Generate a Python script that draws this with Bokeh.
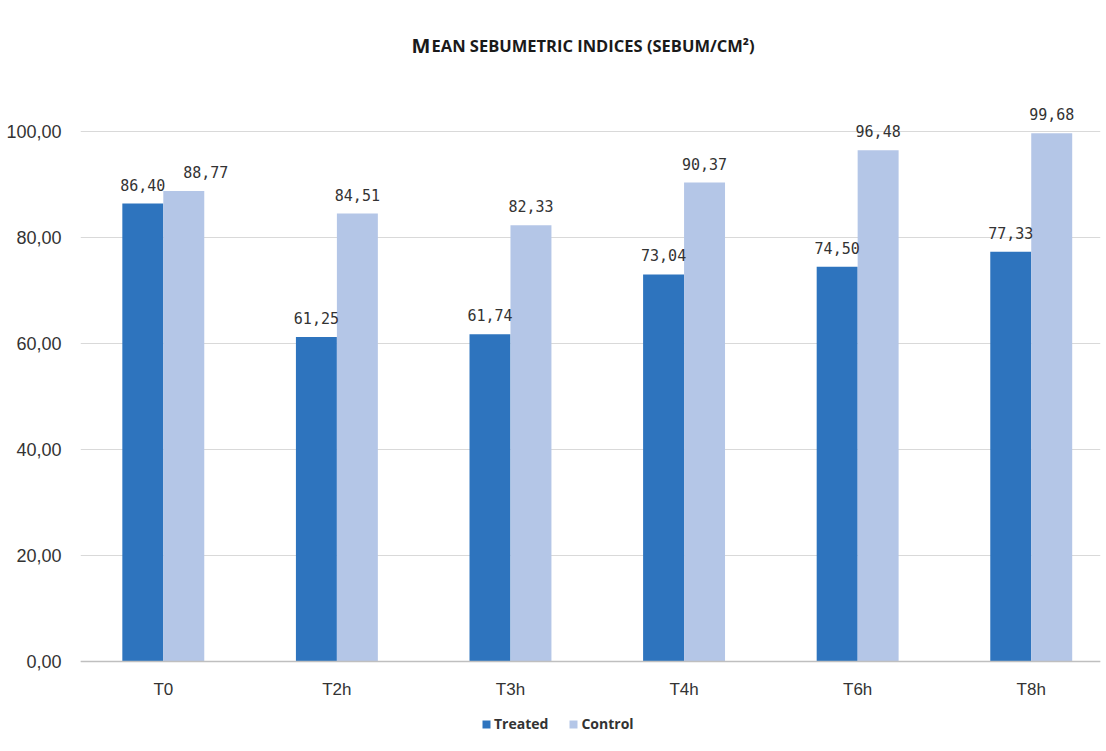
import numpy as np
from bokeh.plotting import figure
from bokeh.models import (ColumnDataSource, Range1d, FixedTicker, Label,
                          Legend, LegendItem)
from bokeh.core.properties import value
from bokeh.embed import file_html
from bokeh.resources import INLINE

# ---- data -------------------------------------------------------------
times = ["T0", "T2h", "T3h", "T4h", "T6h", "T8h"]
treated = [86.40, 61.25, 61.74, 73.04, 74.50, 77.33]
control = [88.77, 84.51, 82.33, 90.37, 96.48, 99.68]
y_ticks = [0, 20, 40, 60, 80, 100]


def fmt(v):
    return f"{v:.2f}".replace(".", ",")


# ---- styling ----------------------------------------------------------
TREATED_COLOR = "#2E74BE"
CONTROL_COLOR = "#B4C6E7"
TEXT_COLOR = "#333333"
BAR_W = 0.236
# the first control label is nudged right so it clears its neighbour
control_label_dx = [22, 0, 0, 0, 0, 0]

centers = np.arange(len(times)) + 0.5

src_t = ColumnDataSource(dict(x=centers - BAR_W / 2, top=treated,
                              label=[fmt(v) for v in treated],
                              dx=[0] * len(times)))
src_c = ColumnDataSource(dict(x=centers + BAR_W / 2, top=control,
                              label=[fmt(v) for v in control],
                              dx=control_label_dx))

# The frame spans the full height so the title and legend (drawn inside
# it) are not clipped; the x axis is pinned at y = 0.
p = figure(width=1106, height=751, output_backend="svg", toolbar_location=None,
           x_range=Range1d(0.023, 5.899), y_range=Range1d(-16.98, 124.72),
           min_border_left=80, min_border_right=6, min_border_top=0,
           min_border_bottom=0)
p.outline_line_color = None
p.background_fill_color = "white"
p.border_fill_color = "white"

r_t = p.vbar(x="x", top="top", width=BAR_W, source=src_t,
             fill_color=TREATED_COLOR, line_color=None)
r_c = p.vbar(x="x", top="top", width=BAR_W, source=src_c,
             fill_color=CONTROL_COLOR, line_color=None)

for src in (src_t, src_c):
    p.text(x="x", y="top", text="label", source=src, x_offset="dx",
           y_offset=-13, text_align="center", text_baseline="bottom",
           text_font=value("DejaVu Sans Mono"), text_font_size="15px",
           text_color=TEXT_COLOR)

# ---- axes -------------------------------------------------------------
p.yaxis.ticker = FixedTicker(ticks=y_ticks)
p.yaxis.major_label_overrides = {t: fmt(t) for t in y_ticks}
p.yaxis.axis_line_color = None
p.yaxis.major_tick_line_color = None
p.yaxis.minor_tick_line_color = None
p.yaxis.major_label_standoff = 13
p.yaxis.major_label_text_font = "Liberation Sans"
p.yaxis.major_label_text_font_size = "18px"
p.yaxis.major_label_text_color = TEXT_COLOR

p.xaxis.fixed_location = 0
p.xaxis.ticker = FixedTicker(ticks=list(centers))
p.xaxis.major_label_overrides = {float(c): t for c, t in zip(centers, times)}
p.xaxis.axis_line_color = "#BFBFBF"
p.xaxis.axis_line_width = 1.5
p.xaxis.major_tick_line_color = None
p.xaxis.minor_tick_line_color = None
p.xaxis.major_label_standoff = 12
p.xaxis.major_label_text_font = "Liberation Sans"
p.xaxis.major_label_text_font_size = "17px"
p.xaxis.major_label_text_color = TEXT_COLOR

p.xgrid.grid_line_color = None
p.ygrid.grid_line_color = "#D9D9D9"
p.ygrid.grid_line_width = 1.2

# ---- title (small caps), placed relative to the plot frame ------------
title_y = 706
p.add_layout(Label(x=331, y=title_y, x_units="screen", y_units="screen",
                   text="M", text_font="Open Sans", text_font_style="bold",
                   text_font_size="20px", text_color="#1a1a1a",
                   text_baseline="alphabetic"))
p.add_layout(Label(x=351, y=title_y, x_units="screen", y_units="screen",
                   text="EAN SEBUMETRIC INDICES (SEBUM/CM²)",
                   text_font="Open Sans", text_font_style="bold",
                   text_font_size="16.5px", text_color="#1a1a1a",
                   text_baseline="alphabetic"))

# ---- legend -----------------------------------------------------------
legend = Legend(items=[LegendItem(label="Treated", renderers=[r_t]),
                       LegendItem(label="Control", renderers=[r_c])],
                orientation="horizontal", location=(401, 18),
                glyph_width=10, glyph_height=10, label_standoff=3,
                spacing=20, padding=0, margin=0,
                label_text_font="Open Sans", label_text_font_style="bold",
                label_text_font_size="14px", label_text_color=TEXT_COLOR,
                background_fill_alpha=0, border_line_color=None)
p.add_layout(legend)

open("out.html", "w").write(file_html(p, INLINE))
